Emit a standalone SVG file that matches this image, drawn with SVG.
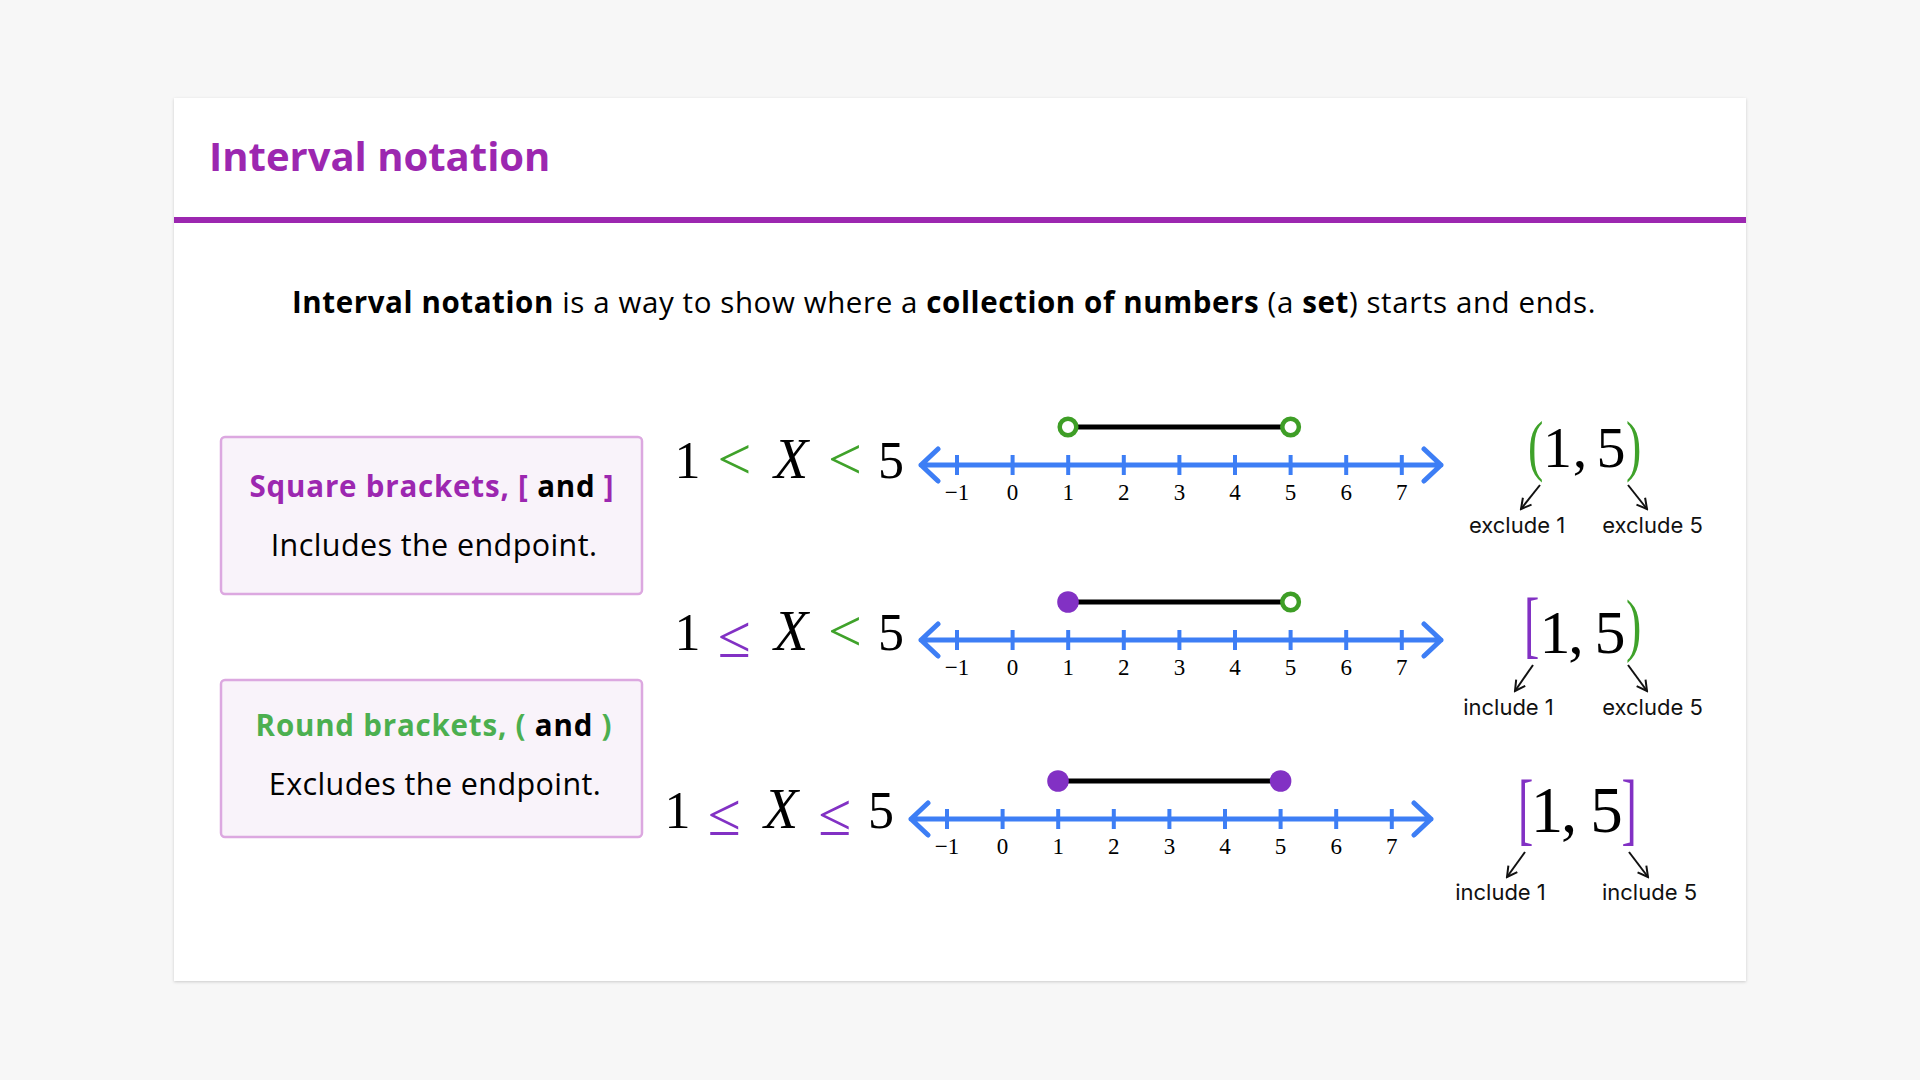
<svg xmlns="http://www.w3.org/2000/svg" xmlns:xlink="http://www.w3.org/1999/xlink" width="1920" height="1080" viewBox="0 0 1920 1080">
<style>
.ui{font-family:'Open Sans','Noto Sans',sans-serif}
.b{font-weight:700}
.math{font-family:'Liberation Serif','DejaVu Serif',serif;fill:#000}
.it{font-style:italic}
.lbl{font-family:Inter,'Liberation Sans',sans-serif;font-size:22px;fill:#111;text-anchor:middle}
.axis{stroke:#3D7EF5;stroke-width:5;fill:none;stroke-linecap:round;stroke-linejoin:round}
.tick{stroke:#3D7EF5;stroke-width:4}
.num{font-family:'Liberation Serif','DejaVu Serif',serif;font-size:23px;fill:#000;text-anchor:middle}
.seg{stroke:#000;stroke-width:5}
.open{fill:#fff;stroke:#3E9E26;stroke-width:4.5}
.closed{fill:#8231C4}
.g{fill:#3FA22A}
.p{fill:#8231C4}
.ptr{stroke:#111;stroke-width:2;fill:none;marker-end:url(#ah)}
.box{fill:#F9F3FA;stroke:#DCA8E0;stroke-width:2.5}
.mid{text-anchor:middle}
.brk{font-family:'Liberation Serif','DejaVu Serif',serif;font-size:46px;text-anchor:start}
</style>
<defs>
<filter id="sh" x="-5%" y="-5%" width="110%" height="110%"><feDropShadow dx="0" dy="1" stdDeviation="1.5" flood-color="#000" flood-opacity="0.18"/></filter>
<marker id="ah" viewBox="0 0 14 14" refX="12" refY="7" markerWidth="14" markerHeight="14" markerUnits="userSpaceOnUse" orient="auto"><path d="M2,1.5 L12,7 L2,12.5" fill="none" stroke="#111" stroke-width="2"/></marker>
<g id="nl">
<path class="axis" d="M0,0 H520 M17,-16 L0,0 L17,16 M503,-16 L520,0 L503,16"/>
<path class="tick" d="M36,-10v20 M91.6,-10v20 M147.2,-10v20 M202.8,-10v20 M258.4,-10v20 M314,-10v20 M369.6,-10v20 M425.2,-10v20 M480.8,-10v20"/>
<text class="num" x="36" y="35">−1</text><text class="num" x="91.6" y="35">0</text><text class="num" x="147.2" y="35">1</text><text class="num" x="202.8" y="35">2</text><text class="num" x="258.4" y="35">3</text><text class="num" x="314" y="35">4</text><text class="num" x="369.6" y="35">5</text><text class="num" x="425.2" y="35">6</text><text class="num" x="480.8" y="35">7</text>
</g>
</defs>
<rect width="1920" height="1080" fill="#F7F7F7"/>
<rect x="174" y="98" width="1572" height="883" fill="#fff" filter="url(#sh)"/>
<g id="header">
<text class="ui b" x="209" y="171" font-size="40" fill="#9C27B0">Interval notation</text>
<rect x="174" y="217" width="1572" height="6" fill="#9C27B0"/>
</g>
<text id="intro" class="ui mid" x="944" y="313" font-size="29.5" letter-spacing="0.6" fill="#000"><tspan class="b">Interval notation</tspan> is a way to show where a <tspan class="b">collection of numbers</tspan> (a <tspan class="b">set</tspan>) starts and ends.</text>

<g id="box-square">
<rect class="box" x="221" y="437" width="421" height="157" rx="4"/>
<text class="ui b mid" x="432" y="497" font-size="29.5" letter-spacing="0.8"><tspan fill="#9C27B0">Square brackets, [ </tspan><tspan fill="#000">and</tspan><tspan fill="#9C27B0"> ]</tspan></text>
<text class="ui mid" x="434" y="556" font-size="30.5" letter-spacing="0.4" fill="#000">Includes the endpoint.</text>
</g>
<g id="box-round">
<rect class="box" x="221" y="680" width="421" height="157" rx="4"/>
<text class="ui b mid" x="434" y="736" font-size="29.5" letter-spacing="0.8"><tspan fill="#4CAF50">Round brackets, ( </tspan><tspan fill="#000">and</tspan><tspan fill="#4CAF50"> )</tspan></text>
<text class="ui mid" x="435" y="795" font-size="30.5" letter-spacing="0.4" fill="#000">Excludes the endpoint.</text>
</g>

<g id="row1">
<g class="math mid">
<text x="687.5" y="478" font-size="52">1</text>
<text x="734.5" y="479" font-size="60" class="g">&lt;</text>
<text x="791" y="478" font-size="56" class="it">X</text>
<text x="845" y="479" font-size="60" class="g">&lt;</text>
<text x="891" y="478" font-size="52">5</text>
</g>
<use xlink:href="#nl" href="#nl" x="921" y="465"/>
<line class="seg" x1="1068" y1="427" x2="1290.6" y2="427"/>
<circle class="open" cx="1068" cy="427" r="8.3"/>
<circle class="open" cx="1290.6" cy="427" r="8.3"/>
<g class="math mid">
<text class="brk g" transform="translate(1528,468) scale(1,1.48)">(</text>
<text x="1557.5" y="467" font-size="58">1</text>
<text x="1580" y="467" font-size="58">,</text>
<text x="1611" y="467" font-size="58">5</text>
<text class="brk g" transform="translate(1626,468) scale(1,1.48)">)</text>
</g>
</g>

<g id="row2">
<g class="math mid">
<text x="687.5" y="650" font-size="52">1</text>
<text x="734.5" y="657" font-size="60" class="p">≤</text>
<text x="791" y="650" font-size="56" class="it">X</text>
<text x="845" y="651" font-size="60" class="g">&lt;</text>
<text x="891" y="650" font-size="52">5</text>
</g>
<use xlink:href="#nl" href="#nl" x="921" y="640"/>
<line class="seg" x1="1068" y1="602" x2="1290.6" y2="602"/>
<circle class="closed" cx="1068" cy="602" r="10.8"/>
<circle class="open" cx="1290.6" cy="602" r="8.3"/>
<g class="math mid">
<text class="brk p" transform="translate(1524,648.5) scale(1,1.59)">[</text>
<text x="1555" y="653" font-size="62">1</text>
<text x="1576" y="653" font-size="62">,</text>
<text x="1610" y="653" font-size="62">5</text>
<text class="brk g" transform="translate(1626,647.5) scale(1,1.53)">)</text>
</g>
</g>

<g id="row3">
<g class="math mid">
<text x="677.5" y="828" font-size="52">1</text>
<text x="724.5" y="835" font-size="60" class="p">≤</text>
<text x="781" y="828" font-size="56" class="it">X</text>
<text x="835" y="835" font-size="60" class="p">≤</text>
<text x="881" y="828" font-size="52">5</text>
</g>
<use xlink:href="#nl" href="#nl" x="911" y="819"/>
<line class="seg" x1="1058" y1="781" x2="1280.6" y2="781"/>
<circle class="closed" cx="1058" cy="781" r="10.8"/>
<circle class="closed" cx="1280.6" cy="781" r="10.8"/>
<g class="math mid">
<text class="brk p" transform="translate(1518,834.6) scale(1,1.73)">[</text>
<text x="1547" y="832" font-size="65">1</text>
<text x="1569" y="832" font-size="65">,</text>
<text x="1606.5" y="832" font-size="65">5</text>
<text class="brk p" transform="translate(1621.4,834.6) scale(1,1.73)">]</text>
</g>
</g>

<g id="connectors">
<line class="ptr" x1="1540" y1="485" x2="1521" y2="509"/>
<line class="ptr" x1="1628" y1="485" x2="1647" y2="509"/>
<line class="ptr" x1="1533" y1="665" x2="1515" y2="691"/>
<line class="ptr" x1="1628" y1="665" x2="1647" y2="691"/>
<line class="ptr" x1="1525" y1="852" x2="1507" y2="877"/>
<line class="ptr" x1="1629" y1="852" x2="1648" y2="877"/>
</g>
<g id="labels">
<text class="lbl" x="1517" y="533">exclude 1</text>
<text class="lbl" x="1652.5" y="533">exclude 5</text>
<text class="lbl" x="1508.5" y="715">include 1</text>
<text class="lbl" x="1652.5" y="715">exclude 5</text>
<text class="lbl" x="1500.5" y="900">include 1</text>
<text class="lbl" x="1649.5" y="900">include 5</text>
</g>
</svg>
